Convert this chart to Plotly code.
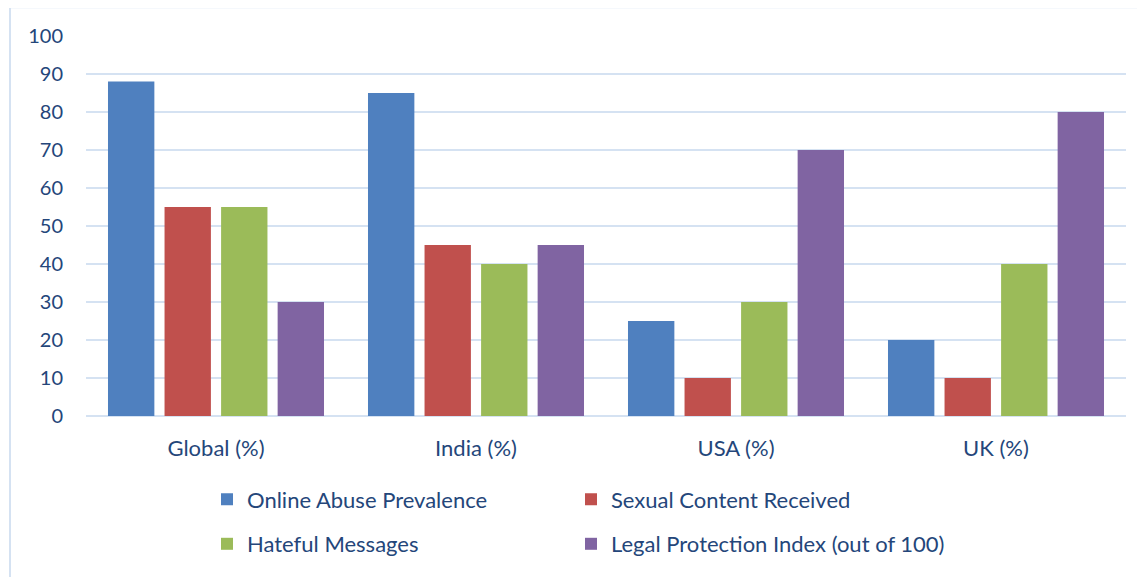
import plotly.graph_objects as go

categories = ["Global (%)", "India (%)", "USA (%)", "UK (%)"]
online_abuse = [88, 85, 25, 20]
sexual_content = [55, 45, 10, 10]
hateful_messages = [55, 40, 30, 40]
legal_protection = [30, 45, 70, 80]

series_names = ["Online Abuse Prevalence", "Sexual Content Received",
                "Hateful Messages", "Legal Protection Index (out of 100)"]
series_values = [online_abuse, sexual_content, hateful_messages, legal_protection]
series_colors = ["#4F80BF", "#C0504D", "#9BBB59", "#8064A2"]

TEXT = "#24467A"
GRID = "#D5E2F2"
FONT = "Lato, Carlito, Calibri, sans-serif"

# page body has an 8px margin; compensate so the plot lands where the reference is
OFF = 8
W, H = 1145 - OFF, 577 - OFF
ml, mr, mt, mb = 86 - OFF, 19, 36 - OFF, 158
pw, ph = W - ml - mr, H - mt - mb

def px_x(p):
    return (p - OFF - ml) / pw

def px_y(p):
    return (H - mb - (p - OFF)) / ph

legend_ids = ["legend", "legend2", "legend3", "legend4"]
legend_pos = [(207, 503), (571, 503), (207, 548), (571, 548)]

fig = go.Figure()
for name, vals, col, lg in zip(series_names, series_values, series_colors, legend_ids):
    fig.add_trace(go.Bar(x=categories, y=vals, name=name, marker_color=col,
                         marker_line_width=0, legend=lg, showlegend=True))

legends = {}
for lg, (lx, ly) in zip(legend_ids, legend_pos):
    legends[lg] = dict(x=px_x(lx), y=px_y(ly), xanchor="left", yanchor="middle",
                       orientation="h", font=dict(family=FONT, size=22, color=TEXT),
                       bgcolor="rgba(0,0,0,0)", itemclick=False, visible=True)

fig.update_layout(
    width=W, height=H,
    margin=dict(l=ml, r=mr, t=mt, b=mb),
    paper_bgcolor="white", plot_bgcolor="white",
    showlegend=True,
    barmode="group", bargap=0.13, bargroupgap=0.18,
    font=dict(family=FONT, size=22, color=TEXT),
    xaxis=dict(showgrid=False, showline=False, ticks="", ticklabelstandoff=17,
               tickfont=dict(family=FONT, size=22, color=TEXT)),
    yaxis=dict(range=[0, 100], dtick=10, showgrid=True, gridcolor=GRID, gridwidth=2,
               zeroline=True, zerolinecolor=GRID, zerolinewidth=2, showline=False,
               ticks="", ticklabelstandoff=22,
               tickfont=dict(family=FONT, size=20, color=TEXT)),
    shapes=[dict(type="rect", xref="paper", yref="paper",
                 x0=px_x(10), x1=px_x(1170), y0=px_y(600), y1=px_y(7),
                 line=dict(color="#D5E2F2", width=2), fillcolor="rgba(0,0,0,0)",
                 layer="below")],
    **legends,
)

fig.write_html("out.html")
